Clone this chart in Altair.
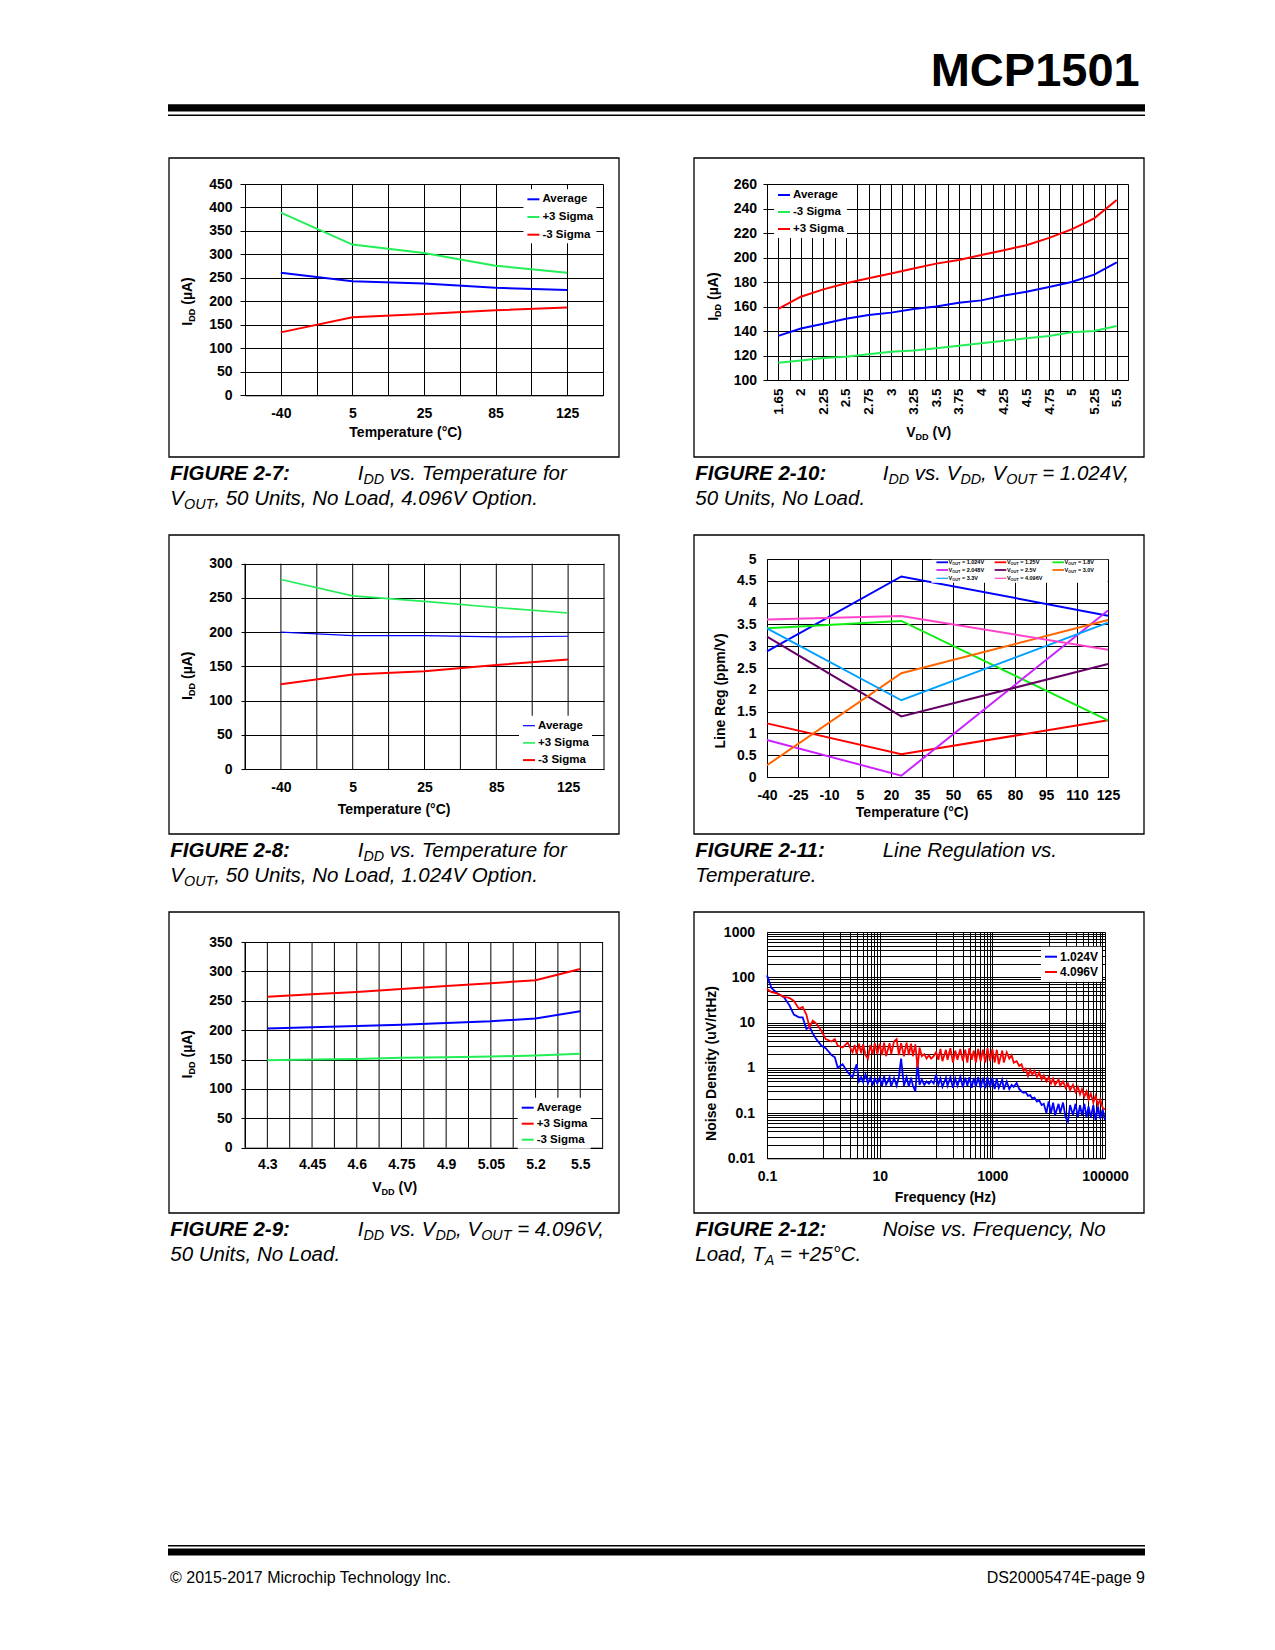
import altair as alt
import pandas as pd

FONT = "Liberation Sans"
BLUE = "#0000FF"
RED = "#FF0000"
GREEN = "#22EE55"

# ======================= DATA =======================
TEMP_CATS = ["-40", "5", "25", "85", "125"]

# Figure 2-7 (4.096V option)
F27_AVERAGE = [261, 243, 238, 229, 224]
F27_PLUS3 = [389, 321, 303, 276, 261]
F27_MINUS3 = [134, 166, 173, 181, 187]

# Figure 2-8 (1.024V option)
F28_AVERAGE = [200, 195, 195, 193, 194]
F28_PLUS3 = [277, 253, 245, 236, 228]
F28_MINUS3 = [124, 138, 143, 152, 160]

# Figure 2-9 (VOUT = 4.096V)
F29_VDD = ["4.3", "4.45", "4.6", "4.75", "4.9", "5.05", "5.2", "5.5"]
F29_AVERAGE = [203, 205, 207, 209, 212, 215, 220, 232]
F29_PLUS3 = [257, 261, 265, 270, 275, 280, 285, 304]
F29_MINUS3 = [149, 150, 151, 153, 154, 155, 157, 160]

# Figure 2-10 (VOUT = 1.024V)
F210_VDD = ["1.65", "2", "2.25", "2.5", "2.75", "3", "3.25", "3.5", "3.75", "4",
            "4.25", "4.5", "4.75", "5", "5.25", "5.5"]
F210_AVERAGE = [136, 142, 146, 150, 153, 155, 158, 160, 163, 165, 169, 172, 176, 180, 186, 196]
F210_MINUS3 = [114, 116, 118, 119, 121, 123, 124, 126, 128, 130, 132, 134, 136, 139, 140, 144]
F210_PLUS3 = [158, 168, 174, 179, 183, 187, 191, 195, 198, 202, 206, 210, 216, 223, 232, 247]

# Figure 2-11 (line regulation)
F211_TEMP = [-40, 25, 125]
F211_NAMES = ["1.024V", "1.25V", "1.8V", "2.048V", "2.5V", "3.0V", "3.3V", "4.096V"]
F211_1024 = [2.88, 4.60, 3.70]
F211_125 = [1.23, 0.52, 1.30]
F211_18 = [3.41, 3.58, 1.30]
F211_2048 = [0.85, 0.03, 3.82]
F211_25 = [3.22, 1.39, 2.59]
F211_30 = [0.27, 2.38, 3.60]
F211_33 = [3.41, 1.76, 3.54]
F211_4096 = [3.61, 3.69, 2.92]
F211_COLORS = ["#0000FF", "#FF0000", "#11EE11", "#CC22FF", "#660066", "#FF6600", "#00A0FF", "#FF44CC"]

# Figure 2-12 (noise density)
NOISE_FREQ_HZ = [
    0.1, 0.12, 0.15, 0.2, 0.25, 0.3, 0.37, 0.43, 0.5, 0.57, 0.65, 0.75, 0.92, 1.1, 1.4, 1.6, 1.8, 2.2, 2.7,
    3.0, 3.3, 3.6, 3.9, 4.3, 4.7, 5.1, 5.6, 6.2, 6.8, 7.5, 8.2, 9.1,
    10, 11, 12, 13, 15, 16, 18, 20, 22, 24, 27, 30, 33, 36, 39, 43, 47, 51, 56, 62, 68, 75, 82, 91,
    100, 110, 120, 130, 150, 160, 180, 200, 220, 240, 270, 300, 330, 360, 390, 430, 470, 510, 560, 620,
    680, 750, 820, 910,
    1000, 1100, 1200, 1300, 1500, 1600, 1800, 2000, 2200, 2400, 2700, 3000, 3300, 3600, 3900, 4300,
    4700, 5100, 5600, 6200, 6800, 7500, 8200, 9100,
    10000, 11000, 12000, 13000, 15000, 16000, 18000, 20000, 22000, 24000, 27000, 30000, 33000, 36000,
    39000, 43000, 47000, 51000, 56000, 62000, 68000, 75000, 82000, 91000,
    100000]
NOISE_1024 = [
    110, 58, 45, 36, 24, 15, 13, 13, 7.2, 8.0, 5.7, 4.3, 3.1, 2.7, 1.9, 1.7, 1.0, 1.2, 0.8,
    0.7, 0.62, 0.9, 1.2, 0.5, 0.62, 0.48, 0.72, 0.45, 0.6, 0.42, 0.58, 0.45,
    0.6, 0.4, 0.65, 0.42, 0.62, 0.38, 0.6, 0.4, 0.64, 1.6, 0.4, 0.62, 0.38, 0.6, 0.4, 0.3, 1.3, 0.42,
    0.55, 0.42, 0.5, 0.44, 0.52, 0.45,
    0.7, 0.42, 0.58, 0.38, 0.6, 0.4, 0.62, 0.36, 0.58, 0.4, 0.63, 0.37, 0.6, 0.4, 0.62, 0.36, 0.6, 0.38,
    0.63, 0.36, 0.6, 0.35, 0.62, 0.37,
    0.6, 0.34, 0.58, 0.36, 0.55, 0.33, 0.5, 0.34, 0.42, 0.38, 0.46, 0.34, 0.3, 0.28, 0.29, 0.24, 0.25,
    0.21, 0.22, 0.18, 0.19, 0.15, 0.16, 0.1,
    0.18, 0.1, 0.17, 0.09, 0.16, 0.1, 0.17, 0.08, 0.065, 0.15, 0.09, 0.16, 0.08, 0.15, 0.09, 0.16, 0.08,
    0.14, 0.08, 0.15, 0.07, 0.14, 0.075, 0.12,
    0.07]
NOISE_4096 = [
    55, 47, 44, 37, 35, 30, 20, 22, 15, 7.8, 11, 9.5, 6.6, 4.3, 3.8, 4.3, 3.1, 2.8, 3.6,
    2.8, 2.2, 3.2, 2.0, 3.4, 2.1, 3.3, 1.9, 1.6, 3.2, 2.0, 3.5, 2.0,
    3.4, 1.9, 3.6, 1.8, 3.5, 2.0, 3.8, 4.3, 1.9, 3.5, 1.8, 3.6, 1.9, 3.4, 1.8, 3.3, 1.0, 2.8, 1.8, 2.0,
    1.6, 1.9, 1.6, 1.8,
    2.2, 1.5, 2.6, 1.4, 2.5, 1.5, 2.7, 1.3, 2.4, 1.5, 2.6, 1.4, 2.5, 1.3, 2.7, 1.5, 2.4, 1.3, 2.6, 1.4,
    2.5, 1.3, 2.7, 1.4,
    2.6, 1.3, 2.5, 1.2, 2.4, 1.3, 2.2, 1.6, 1.9, 1.3, 1.4, 1.1, 1.2, 0.85, 0.95, 0.65, 0.9, 0.7, 0.85,
    0.62, 0.78, 0.55, 0.68, 0.5,
    0.62, 0.45, 0.58, 0.42, 0.55, 0.4, 0.5, 0.36, 0.45, 0.32, 0.42, 0.29, 0.38, 0.26, 0.34, 0.23, 0.3,
    0.2, 0.27, 0.17, 0.24, 0.15, 0.2, 0.13,
    0.12]
NOISE_X_GRID = [0.1, 1, 2, 3, 4, 5, 6, 7, 8, 9, 10, 100, 200, 300, 400, 500, 600, 700, 800, 900, 1000,
                10000, 20000, 30000, 40000, 50000, 60000, 70000, 80000, 90000, 100000]
NOISE_Y_GRID = [0.01, 0.02, 0.03, 0.04, 0.05, 0.06, 0.07, 0.08, 0.09,
                0.1, 0.2, 0.3, 0.4, 0.5, 0.6, 0.7, 0.8, 0.9,
                1, 2, 3, 4, 5, 6, 7, 8, 9, 10, 20, 30, 40, 50, 60, 70, 80, 90,
                100, 200, 300, 400, 500, 600, 700, 800, 900, 1000]

# ======================= TEXT HELPERS =======================
def _table(groups):
    d = {}
    for w, chars in groups:
        for c in chars:
            d[c] = w
    return d

REG_W = _table([(222, "ijl"), (278, " !,./:;I[]ft"), (333, "()-r"), (400, "°"),
                (500, "ckJsvxyz"), (556, "0123456789abdeghnopquL#$_µ"), (584, "+<=>~"),
                (611, "FTZ"), (667, "ABEKPSVXY&"), (722, "CDHNRUw"), (737, "©"),
                (778, "GOQ"), (833, "Mm"), (889, "%"), (944, "W")])
BOLD_W = _table([(278, " ,./Iijl"), (333, "!()-:;ft"), (389, "r"), (400, "°"), (500, "z"),
                 (556, "0123456789acesvxykJ#$"), (584, "+<=>~"), (611, "bdghnopquFLTZµ"),
                 (667, "EPSVXY"), (722, "ABCDHKNRUw&"), (737, "©"), (778, "GOQ"),
                 (833, "M"), (889, "m%"), (944, "W")])


def tw(s, size, bold):
    t = BOLD_W if bold else REG_W
    return sum(t.get(c, 556) for c in s) * size / 1000.0


ONE = pd.DataFrame({"k": [0]})


def vrect(x0, x1, y0, y1, **kw):
    return alt.Chart(ONE).mark_rect(**kw).encode(
        x=alt.value(x0), x2=alt.value(x1), y=alt.value(y0), y2=alt.value(y1))


def vrule(x0, x1, y, color, width):
    return alt.Chart(ONE).mark_rule(color=color, strokeWidth=width).encode(
        x=alt.value(x0), x2=alt.value(x1), y=alt.value(y))


def vtext(s, x, y, size, bold=False, italic=False, align="left", angle=0, dx=0.0, dy=0.0):
    kw = dict(text=s, align=align, baseline="alphabetic", font=FONT, fontSize=size,
              fontWeight="bold" if bold else "normal",
              fontStyle="italic" if italic else "normal",
              color="black", dx=dx, dy=dy)
    if angle:
        kw["angle"] = angle
    return alt.Chart(ONE).mark_text(**kw).encode(x=alt.value(x), y=alt.value(y))


def rich(pieces, x, y, size, bold=False, italic=False, angle=0, anchor="start",
         sub_ratio=0.68, sub_shift=0.2):
    sizes = [size * sub_ratio if sub else size for _, sub in pieces]
    widths = [tw(t, s, bold) for (t, _), s in zip(pieces, sizes)]
    total = sum(widths)
    cur = {"start": 0.0, "middle": -total / 2, "end": -total}[anchor]
    out = []
    for (t, sub), s, w in zip(pieces, sizes, widths):
        stripped = t.lstrip(" ")
        lead = tw(t[: len(t) - len(stripped)], s, bold)
        if stripped:
            out.append(vtext(stripped, x, y, s, bold, italic, angle=angle,
                             dx=cur + lead, dy=size * sub_shift if sub else 0.0))
        cur += w
    return out


# ---- panel geometry (page pixels) ----
LEFT_OX, RIGHT_OX = 245.3, 767.3
ROW_OY = [184.0, 559.0, 932.0]
ROW_BOX = [(-26, 273), (-24, 275), (-20, 281)]       # box top / bottom relative to row origin
LEFT_BOX_X = (-76, 374)
RIGHT_BOX_X = (-73, 377)
CELL_H = 377


class Geo:
    def __init__(self, col, row):
        self.ox = LEFT_OX if col == 0 else RIGHT_OX
        self.oy = ROW_OY[row]
        self.bx = LEFT_BOX_X if col == 0 else RIGHT_BOX_X
        self.by = ROW_BOX[row]

    def x(self, px):
        return px - self.ox

    def y(self, py):
        return py - self.oy

    def ytitle(self, pieces, cx, cy, size=14):
        return rich(pieces, self.x(cx) + 0.358 * size, self.y(cy), size, bold=True, angle=270,
                    anchor="middle", sub_ratio=0.65, sub_shift=0.2)

    def xtitle(self, pieces, cx, cy, size=14):
        return rich(pieces, self.x(cx), self.y(cy) + 0.358 * size, size, bold=True,
                    anchor="middle", sub_ratio=0.65, sub_shift=0.2)

    def legend(self, sym_left, first_center, spacing, size=11.5, pad=3):
        return alt.Legend(title=None, orient="none", legendX=self.x(sym_left) - pad,
                          legendY=self.y(first_center) - 6 - pad, direction="vertical",
                          symbolType="stroke", symbolSize=144, symbolStrokeWidth=2,
                          labelFont=FONT, labelFontSize=size, labelFontWeight="bold",
                          labelColor="black", labelOffset=2, rowPadding=spacing - 12,
                          padding=pad, fillColor="white")

    def frame(self, label, line1, line2):
        bx0, bx1 = self.bx
        by0, by1 = self.by
        back = [vrect(bx0 - 1, bx1 + 1, by0 - 1, by0 - 1 + CELL_H, color="white", opacity=0),
                vrect(bx0, bx1, by0, by1, fill="white", fillOpacity=0, stroke="black",
                      strokeWidth=1.3)]
        cy1 = by1 + 22.5
        cy2 = by1 + 47.8
        caps = [vtext(label, bx0 + 1.3, cy1, 20.5, bold=True, italic=True)]
        caps += rich(line1, bx0 + 188.7, cy1, 20.5, italic=True, sub_ratio=0.7, sub_shift=0.2)
        caps += rich(line2, bx0 + 1.3, cy2, 20.5, italic=True, sub_ratio=0.7, sub_shift=0.2)
        return back, caps


def cat_lines(cats, series, colors, widths, ymin, ymax, ystep, ytick, ylabpad, xlabpad,
              legend, H, inset=0.0, xangle=None, label_size=14):
    """Category line chart; x gridlines sit on every category and half category."""
    n = len(cats)
    rows = [{"i": i, "series": name, "v": v} for name, vals in series for i, v in enumerate(vals)]
    df = pd.DataFrame(rows)
    names = [s[0] for s in series]
    arr = "[" + ",".join("'" + c + "'" for c in cats) + "]"
    grid_pos = [k / 2 for k in range(-1, 2 * n)]
    xscale = alt.Scale(domain=[-0.5, n - 0.5], nice=False, zero=False)
    xkw = dict(values=grid_pos, grid=inset == 0, ticks=False, tickSize=0,
               labelExpr="datum.value % 1 === 0 ? " + arr + "[datum.value] : ''",
               labelPadding=xlabpad, labelFontSize=label_size, labelOverlap=False,
               labelFlush=False, title=None)
    if xangle is not None:
        xkw.update(labelAngle=xangle, labelAlign="right", labelBaseline="middle")
    yaxis = alt.Axis(values=list(range(ymin, ymax + 1, ystep)), grid=True, tickSize=ytick,
                     labelPadding=ylabpad, format="d", labelFontSize=14, labelOverlap=False,
                     title=None)
    lines = alt.Chart(df).mark_line().encode(
        x=alt.X("i:Q", scale=xscale, axis=alt.Axis(**xkw)),
        y=alt.Y("v:Q", scale=alt.Scale(domain=[ymin, ymax], nice=False, zero=False,
                                       range=[H, inset]), axis=yaxis),
        color=alt.Color("series:N", scale=alt.Scale(domain=names, range=colors), legend=legend),
        strokeWidth=alt.StrokeWidth("series:O", scale=alt.Scale(domain=names, range=widths),
                                    legend=None),
    )
    if inset == 0:
        return [lines]
    # plot area starts below the view top: draw the vertical gridlines only over the plot
    vgrid = alt.Chart(pd.DataFrame({"i": grid_pos})).mark_rule(color="black", strokeWidth=1).encode(
        x=alt.X("i:Q", scale=xscale, axis=alt.Axis(**xkw)), y=alt.value(inset), y2=alt.value(H))
    return [vgrid, lines]


IDD = [("I", 0), ("DD", 1), (" (µA)", 0)]
VDD = [("V", 0), ("DD", 1), (" (V)", 0)]
TEMP_T = [("Temperature (°C)", 0)]
IDD_VS_T = [("I", 0), ("DD", 1), (" vs. Temperature for", 0)]

# ---------------- Figure 2-7 ----------------
g = Geo(0, 0)
W, H = 358, 211.3
back, caps = g.frame("FIGURE 2-7:", IDD_VS_T,
                     [("V", 0), ("OUT", 1), (", 50 Units, No Load, 4.096V Option.", 0)])
lines = cat_lines(TEMP_CATS, [("Average", F27_AVERAGE), ("+3 Sigma", F27_PLUS3), ("-3 Sigma", F27_MINUS3)],
                  [BLUE, GREEN, RED], [2, 2, 2], 0, 450, 50, 5, 8, 11.4,
                  g.legend(526.7, 198.3, 16.7), H)
p27 = alt.layer(*back, *lines, *g.ytitle(IDD, 187.4, 301.2), *g.xtitle(TEMP_T, 406.5, 431.7),
                *caps).properties(width=W, height=H)

# ---------------- Figure 2-10 ----------------
g = Geo(1, 0)
W, H = 361, 196
back, caps = g.frame("FIGURE 2-10:",
                     [("I", 0), ("DD", 1), (" vs. V", 0), ("DD", 1), (", V", 0), ("OUT", 1), (" = 1.024V,", 0)],
                     [("50 Units, No Load.", 0)])
lines = cat_lines(F210_VDD, [("Average", F210_AVERAGE), ("-3 Sigma", F210_MINUS3), ("+3 Sigma", F210_PLUS3)],
                  [BLUE, GREEN, RED], [2, 2, 2], 100, 260, 20, 4, 6.5, 8,
                  g.legend(777.3, 194, 16), H, xangle=270, label_size=13.5)
p210 = alt.layer(*back, *lines, *g.ytitle(IDD, 713.3, 296.4), *g.xtitle(VDD, 929, 431.7),
                 *caps).properties(width=W, height=H)

# ---------------- Figure 2-8 ----------------
g = Geo(0, 1)
W, H = 359, 210          # plot spans y 4.7 .. 210 inside the view
back, caps = g.frame("FIGURE 2-8:", IDD_VS_T,
                     [("V", 0), ("OUT", 1), (", 50 Units, No Load, 1.024V Option.", 0)])
lines = cat_lines(TEMP_CATS, [("Average", F28_AVERAGE), ("+3 Sigma", F28_PLUS3), ("-3 Sigma", F28_MINUS3)],
                  [BLUE, GREEN, RED], [1.2, 2, 2], 0, 300, 50, 4, 9, 11.3,
                  g.legend(522.3, 724.7, 16.2), H, inset=4.7)
p28 = alt.layer(*back, *lines, *g.ytitle(IDD, 187.5, 675.5), *g.xtitle(TEMP_T, 394.9, 808.7),
                *caps).properties(width=W, height=H)

# ---------------- Figure 2-11 ----------------
g = Geo(1, 1)
W, H = 341, 218
back, caps = g.frame("FIGURE 2-11:", [("Line Regulation vs.", 0)], [("Temperature.", 0)])
f211_series = [F211_1024, F211_125, F211_18, F211_2048, F211_25, F211_30, F211_33, F211_4096]
rows = [{"t": t, "series": nm, "v": v}
        for nm, vals in zip(F211_NAMES, f211_series) for t, v in zip(F211_TEMP, vals)]
df211 = pd.DataFrame(rows)
lines211 = alt.Chart(df211).mark_line().encode(
    x=alt.X("t:Q", scale=alt.Scale(domain=[-40, 125], nice=False, zero=False),
            axis=alt.Axis(values=list(range(-40, 126, 15)), grid=True, ticks=False, tickSize=0,
                          labelExpr="'' + datum.value",
                          labelPadding=11.6, labelFontSize=14, labelFlush=False,
                          labelOverlap=False, title=None)),
    y=alt.Y("v:Q", scale=alt.Scale(domain=[0, 5], nice=False, zero=False),
            axis=alt.Axis(values=[0, 0.5, 1, 1.5, 2, 2.5, 3, 3.5, 4, 4.5, 5], grid=True,
                          tickSize=0, labelPadding=11, format="~g", labelFontSize=14,
                          labelOverlap=False, title=None)),
    color=alt.Color("series:N", scale=alt.Scale(domain=F211_NAMES, range=F211_COLORS), legend=None),
    strokeWidth=alt.StrokeWidth("series:O", scale=alt.Scale(domain=F211_NAMES,
                                range=[2, 2, 2, 2, 2, 2, 1.6, 1.6]), legend=None),
)
leg211 = [vrect(g.x(931.7), g.x(1108), 0.8, g.y(582.7), color="white")]
col_x = [936.7, 995, 1052.7]
row_y = [562.3, 570, 578.3]
for k, (nm, colr) in enumerate(zip(F211_NAMES, F211_COLORS)):
    r, c = divmod(k, 3)
    sx, cy = g.x(col_x[c]), g.y(row_y[r])
    leg211.append(vrule(sx, sx + 11.6, cy, colr, 1.8 if k < 6 else 1.2))
    leg211 += rich([("V", 0), ("OUT", 1), (" = " + nm, 0)], sx + 12.2, cy + 2, 5.5, bold=True,
                   sub_ratio=0.7, sub_shift=0.2)
p211 = alt.layer(*back, lines211, *leg211,
                 *g.ytitle([("Line Reg (ppm/V)", 0)], 720, 691),
                 *g.xtitle(TEMP_T, 913, 812.3), *caps).properties(width=W, height=H)

# ---------------- Figure 2-9 ----------------
g = Geo(0, 2)
W, H = 357.6, 215.7      # plot spans y 10 .. 215.7 inside the view
back, caps = g.frame("FIGURE 2-9:",
                     [("I", 0), ("DD", 1), (" vs. V", 0), ("DD", 1), (", V", 0), ("OUT", 1), (" = 4.096V,", 0)],
                     [("50 Units, No Load.", 0)])
lines = cat_lines(F29_VDD, [("Average", F29_AVERAGE), ("+3 Sigma", F29_PLUS3), ("-3 Sigma", F29_MINUS3)],
                  [BLUE, RED, GREEN], [2, 2, 1.2], 0, 350, 50, 4, 9, 9.8,
                  g.legend(521, 1106.7, 15), H, inset=10)
p29 = alt.layer(*back, *lines, *g.ytitle(IDD, 187.5, 1054), *g.xtitle(VDD, 395, 1186.7),
                *caps).properties(width=W, height=H)

# ---------------- Figure 2-12 ----------------
g = Geo(1, 2)
W, H = 338, 226.3
back, caps = g.frame("FIGURE 2-12:", [("Noise vs. Frequency, No", 0)],
                     [("Load, T", 0), ("A", 1), (" = +25°C.", 0)])
n_pts = len(NOISE_FREQ_HZ)
df212 = pd.DataFrame({"f": NOISE_FREQ_HZ + NOISE_FREQ_HZ,
                      "series": ["1.024V"] * n_pts + ["4.096V"] * n_pts,
                      "v": NOISE_1024 + NOISE_4096})
lines212 = alt.Chart(df212).mark_line(strokeWidth=1.8).encode(
    x=alt.X("f:Q", scale=alt.Scale(type="log", domain=[0.1, 100000], nice=False),
            axis=alt.Axis(values=NOISE_X_GRID, grid=True, ticks=False, tickSize=0, format="~g",
                          labelExpr="indexof([0.1,10,1000,100000], datum.value) >= 0 ? datum.label : ''",
                          labelPadding=10.7, labelFontSize=14, labelFlush=False,
                          labelOverlap=False, title=None)),
    y=alt.Y("v:Q", scale=alt.Scale(type="log", domain=[0.01, 1000], nice=False),
            axis=alt.Axis(values=NOISE_Y_GRID, grid=True, tickSize=0, format="~g",
                          labelExpr="indexof([0.01,0.1,1,10,100,1000], datum.value) >= 0 ? datum.label : ''",
                          labelPadding=12.5, labelFontSize=14, labelOverlap=False, title=None)),
    color=alt.Color("series:N", scale=alt.Scale(domain=["1.024V", "4.096V"], range=[BLUE, RED]),
                    legend=g.legend(1044.3, 955.7, 14.3, size=12)),
)
p212 = alt.layer(*back, lines212,
                 *g.ytitle([("Noise Density (uV/rtHz)", 0)], 711, 1063.5),
                 *g.xtitle([("Frequency (Hz)", 0)], 945.6, 1196.5), *caps).properties(width=W, height=H)

# ---------------- header / footer ----------------
HX0, HX1 = -77, 900          # page x 168 .. 1145
header = alt.layer(
    vrect(HX0, HX1, 74.2, 81.6, color="black"),
    vrect(HX0, HX1, 84.6, 86.0, color="black"),
    vtext("MCP1501", 894.7, 56.3, 47, bold=True, align="right"),
).properties(width=HX1, height=127)

footer = alt.layer(
    vrect(HX0, HX1, 257.0, 258.4, color="black"),
    vrect(HX0, HX1, 260.6, 267.6, color="black"),
    vtext("© 2015-2017 Microchip Technology Inc.", HX0 + 2, 295, 16),
    vtext("DS20005474E-page 9", HX1, 295, 16, align="right"),
).properties(width=HX1, height=320)


def row(a, b):
    return alt.hconcat(a, b, spacing=73).resolve_scale(color="independent",
                                                       strokeWidth="independent")


chart = alt.vconcat(header, row(p27, p210), row(p28, p211), row(p29, p212), footer,
                    spacing=0).resolve_scale(color="independent", strokeWidth="independent")
chart = chart.properties(padding={"left": 160, "top": 22, "right": 10, "bottom": 10}).configure(
    font=FONT).configure_view(stroke="transparent", strokeWidth=0).configure_axis(
    labelFont=FONT, labelFontWeight="bold", labelColor="black", domainColor="black",
    domainWidth=1, gridColor="black", gridWidth=1, gridOpacity=1, tickColor="black", tickWidth=1)

chart.save("out.html", embed_options={"renderer": "svg", "actions": False})
